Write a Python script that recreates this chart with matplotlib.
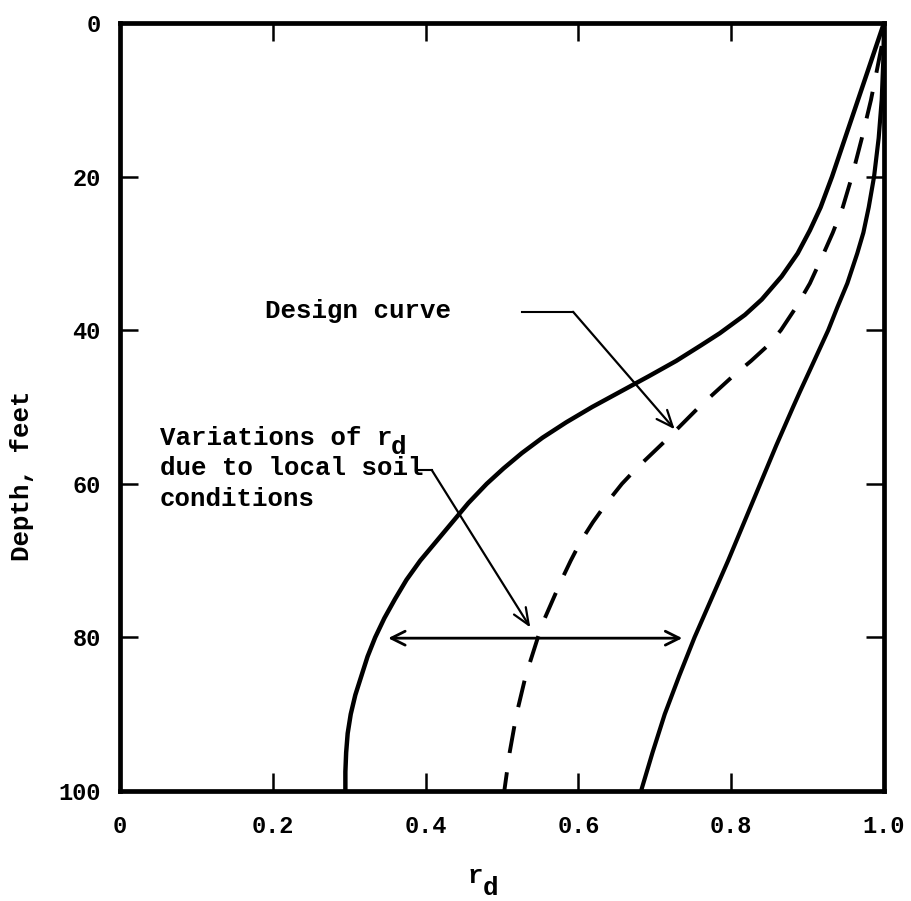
import matplotlib
matplotlib.use("Agg")
import matplotlib.pyplot as plt

# ---- data (rd, depth in feet) ----
lower_rd = [1.0, 0.983, 0.966, 0.949, 0.932, 0.917, 0.903, 0.887, 0.866, 0.84,
            0.818, 0.785, 0.76, 0.728, 0.692, 0.655, 0.618, 0.584, 0.553, 0.526,
            0.502, 0.48, 0.456, 0.435, 0.414, 0.393, 0.375, 0.36, 0.346, 0.334,
            0.324, 0.316, 0.308, 0.302, 0.298, 0.296, 0.295, 0.295]
lower_depth = [0, 5, 10, 15, 20, 24, 27, 30, 33, 36,
               38, 40.4, 42, 44, 46, 48, 50, 52, 54, 56,
               58, 60, 62.5, 65, 67.5, 70, 72.5, 75, 77.5, 80,
               82.5, 85, 87.5, 90, 92.5, 95, 97.5, 100]

design_rd = [0.997, 0.991, 0.983, 0.971, 0.958, 0.946, 0.933, 0.921, 0.903, 0.885,
             0.865, 0.848, 0.826, 0.802, 0.78, 0.758, 0.738, 0.718, 0.697, 0.676,
             0.657, 0.637, 0.619, 0.603, 0.59, 0.578, 0.567, 0.556, 0.547, 0.531,
             0.519, 0.51, 0.503]
design_depth = [3, 6, 10, 15, 20, 24, 27.3, 30, 33.9, 37,
                40, 42, 44, 46, 48, 50, 52, 54, 56, 58,
                60, 62.5, 65, 67.5, 70, 72.5, 75, 77.5, 80, 85,
                90, 95, 100]

upper_rd = [1.0, 0.999, 0.997, 0.993, 0.987, 0.98, 0.973, 0.965, 0.952, 0.939,
            0.927, 0.915, 0.903, 0.890, 0.881, 0.859, 0.838, 0.817, 0.796, 0.774,
            0.752, 0.732, 0.713, 0.697, 0.682]
upper_depth = [0, 5, 10, 15, 20, 24, 27.3, 30, 33.9, 37,
               40, 42.6, 45.2, 48, 50, 55, 60, 65, 70, 75,
               80, 85, 90, 95, 100]

x_ticks = [0, 0.2, 0.4, 0.6, 0.8, 1.0]
x_ticklabels = ["0", "0.2", "0.4", "0.6", "0.8", "1.0"]
y_ticks = [0, 20, 40, 60, 80, 100]
y_ticklabels = ["0", "20", "40", "60", "80", "100"]

plt.rcParams['font.family'] = ['Liberation Mono', 'DejaVu Sans Mono']
plt.rcParams['font.weight'] = 'bold'
plt.rcParams['axes.labelweight'] = 'bold'

FS = 18.5

fig = plt.figure(figsize=(9.11, 9.01), dpi=100)
ax = fig.add_axes([120/911, 1 - 791/901, 764/911, 768/901])

ax.plot(lower_rd, lower_depth, color='black', lw=3.2, solid_capstyle='butt')
ax.plot(upper_rd, upper_depth, color='black', lw=3.0, solid_capstyle='butt')
ax.plot(design_rd, design_depth, color='black', lw=2.8, dashes=(7, 5))

ax.set_xlim(0, 1.0)
ax.set_ylim(100, 0)
ax.set_xticks(x_ticks)
ax.set_xticklabels(x_ticklabels)
ax.set_yticks(y_ticks)
ax.set_yticklabels(y_ticklabels)
ax.tick_params(direction='in', length=13, width=1.8, top=True, right=True,
               labelsize=17, color='black')
ax.tick_params(axis='x', pad=17)
ax.tick_params(axis='y', pad=14)
for s in ax.spines.values():
    s.set_linewidth(3.4)

# x label r with lowered full-size d (typewriter subscript)
ax.set_xlabel("r", fontsize=FS, fontweight='bold')
ax.xaxis.label.set_va('baseline')
ax.xaxis.set_label_coords((475 - 120) / 764, (791 - 883) / 768)
ax.text((490 - 120) / 764, (791 - 895) / 768, "d", fontsize=FS,
        transform=ax.transAxes, ha='center', va='baseline', clip_on=False)

ax.set_ylabel("Depth, feet", fontsize=FS, fontweight='bold')
ax.yaxis.set_label_coords(-0.113, 0.41)

# Annotations
ax.text(0.19, 37.5, "Design curve", fontsize=FS, va='center', ha='left')
ax.plot([0.526, 0.593], [37.6, 37.6], color='black', lw=1.5)
ax.annotate('', xy=(0.726, 52.9), xytext=(0.593, 37.6),
            arrowprops=dict(arrowstyle='->,head_length=0.6,head_width=0.25',
                            lw=1.6, color='black', shrinkA=0, shrinkB=0,
                            mutation_scale=20))

ax.text(0.052, 54.9, "Variations of r", fontsize=FS, va='baseline', ha='left')
ax.annotate("d", xy=(0.052, 54.9), xycoords='data',
            xytext=(15 * 0.6 * FS, -7), textcoords='offset points',
            fontsize=FS, va='baseline', ha='left')
ax.text(0.052, 58.9, "due to local soil", fontsize=FS, va='baseline', ha='left')
ax.text(0.052, 62.9, "conditions", fontsize=FS, va='baseline', ha='left')
ax.plot([0.388, 0.408], [58.2, 58.2], color='black', lw=1.5)
ax.annotate('', xy=(0.537, 78.7), xytext=(0.408, 58.2),
            arrowprops=dict(arrowstyle='->,head_length=0.6,head_width=0.25',
                            lw=1.6, color='black', shrinkA=0, shrinkB=0,
                            mutation_scale=20))

ax.annotate('', xy=(0.351, 80.1), xytext=(0.736, 80.1),
            arrowprops=dict(arrowstyle='<->,head_length=0.5,head_width=0.25',
                            lw=2.0, color='black', shrinkA=0, shrinkB=0,
                            mutation_scale=20))

fig.savefig("out.png", dpi=100)
